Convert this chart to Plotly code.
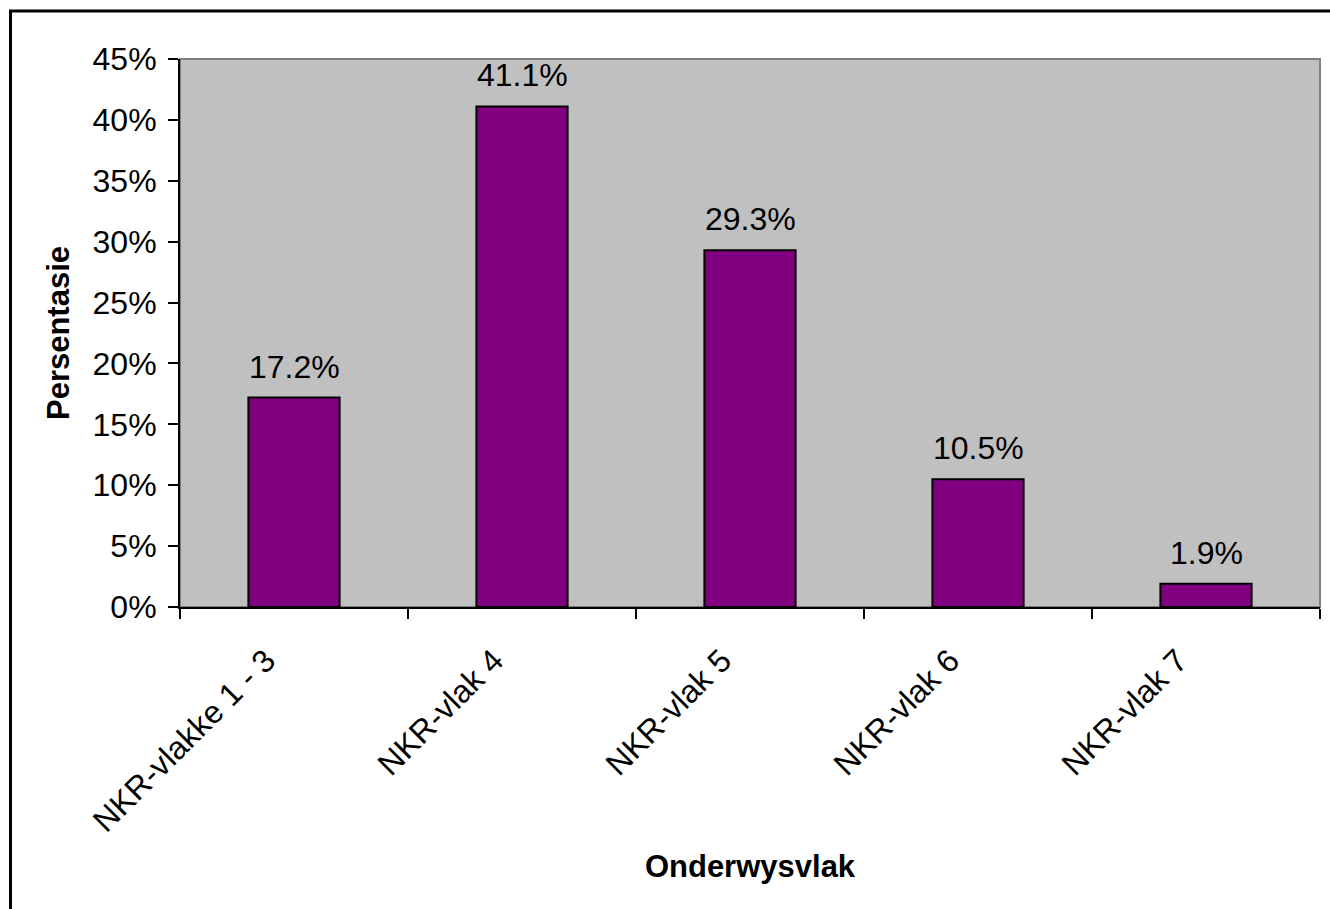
import plotly.graph_objects as go

categories = ["NKR-vlakke 1 - 3", "NKR-vlak 4", "NKR-vlak 5", "NKR-vlak 6", "NKR-vlak 7"]
values = [0.172, 0.411, 0.293, 0.105, 0.019]
labels = ["17.2%", "41.1%", "29.3%", "10.5%", "1.9%"]
y_ticks = [0, 0.05, 0.10, 0.15, 0.20, 0.25, 0.30, 0.35, 0.40, 0.45]
y_tick_text = ["0%", "5%", "10%", "15%", "20%", "25%", "30%", "35%", "40%", "45%"]

FONT = "Liberation Sans, Arial, sans-serif"

fig = go.Figure()
fig.add_trace(go.Bar(
    x=categories, y=values,
    marker=dict(color="#800080", line=dict(color="black", width=2)),
    hoverinfo="skip",
))

for c, v, t in zip(categories, values, labels):
    fig.add_annotation(x=c, y=v, text=t, showarrow=False, xref="x", yref="y",
                       yanchor="bottom", yshift=11,
                       font=dict(family=FONT, size=32, color="black"))

W, H = 1330, 909
L, R, T, B = 180, 10, 59, 302
pw, ph = W - L - R, H - T - B

def px_x(p):
    return (p - L) / pw

def px_y(p):
    return (H - B - p) / ph

# outer frame
fig.add_shape(type="rect", xref="paper", yref="paper",
              x0=px_x(10.5), x1=px_x(1332), y0=px_y(915), y1=px_y(11),
              line=dict(color="black", width=3), fillcolor="rgba(0,0,0,0)", layer="above")
# plot area border (gray top/right)
fig.add_shape(type="rect", xref="paper", yref="paper", x0=0, x1=1, y0=0, y1=1,
              line=dict(color="#808080", width=2), fillcolor="rgba(0,0,0,0)", layer="below")

fig.update_layout(
    width=W, height=H,
    margin=dict(l=L, r=R, t=T, b=B, autoexpand=False),
    paper_bgcolor="white", plot_bgcolor="#C0C0C0",
    bargap=0.6, showlegend=False,
    font=dict(family=FONT, size=32, color="black"),
)
fig.update_xaxes(
    type="category", tickangle=-45, tickson="boundaries",
    ticks="outside", ticklen=10, tickwidth=2, tickcolor="black",
    showline=True, linecolor="black", linewidth=2, showgrid=False,
    tickfont=dict(family=FONT, size=32, color="black"),
    ticklabelstandoff=20, ticklabelshift=-28,
    title=dict(text="<b>Onderwysvlak</b>", font=dict(family=FONT, size=31, color="black"), standoff=18),
)
fig.update_yaxes(
    range=[0, 0.45], tickvals=y_ticks, ticktext=y_tick_text,
    ticks="outside", ticklen=10, tickwidth=2, tickcolor="black",
    showline=True, linecolor="black", linewidth=2, showgrid=False, zeroline=False,
    tickfont=dict(family=FONT, size=32, color="black"),
    ticklabelstandoff=5,
    title=dict(text="<b>Persentasie</b>", font=dict(family=FONT, size=31, color="black"), standoff=14),
)

fig.write_html("out.html")
